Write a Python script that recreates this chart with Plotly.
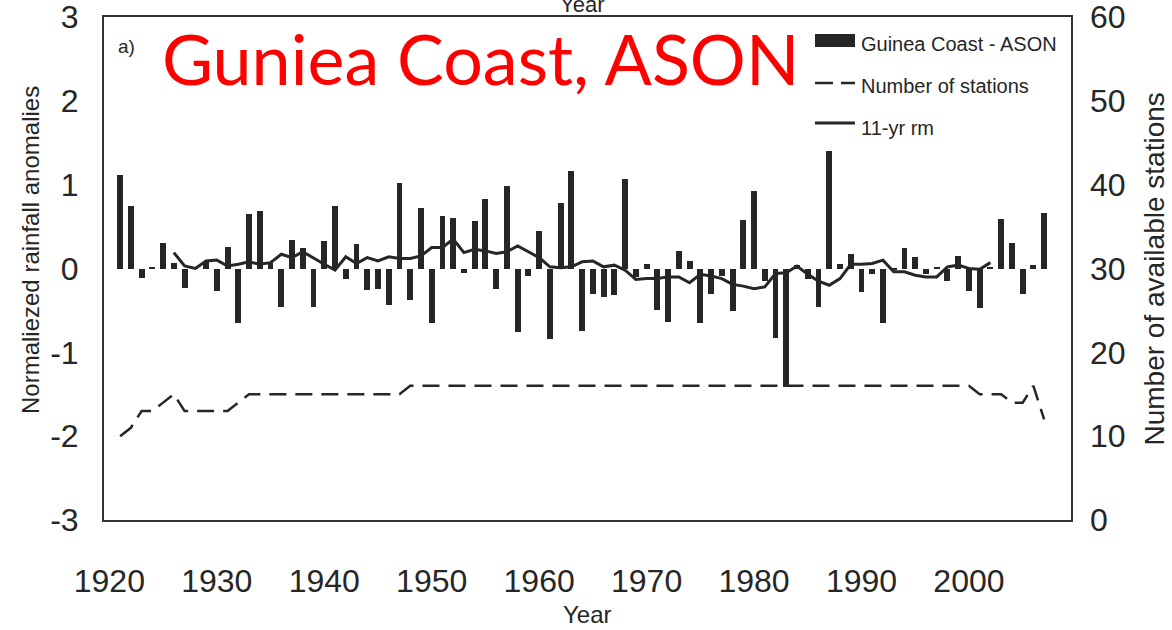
import plotly.graph_objects as go

# ---------------- data ----------------
years = list(range(1921, 2008))
anomalies = [
    1.12, 0.745, -0.11, 0.02, 0.30, 0.06, -0.23, 0.02, 0.08, -0.27,    # 1921-1930
    0.26, -0.65, 0.645, 0.68, 0.07, -0.46, 0.34, 0.25, -0.46, 0.33,     # 1931-1940
    0.75, -0.13, 0.29, -0.26, -0.25, -0.43, 1.02, -0.38, 0.725, -0.645, # 1941-1950
    0.63, 0.60, -0.055, 0.57, 0.83, -0.24, 0.98, -0.76, -0.085, 0.45,   # 1951-1960
    -0.845, 0.785, 1.16, -0.74, -0.30, -0.335, -0.315, 1.07, -0.10, 0.055,  # 1961-1970
    -0.49, -0.64, 0.21, 0.09, -0.655, -0.30, -0.09, -0.51, 0.58, 0.92,  # 1971-1980
    -0.15, -0.83, -1.41, 0.04, -0.12, -0.46, 1.40, 0.05, 0.17, -0.28,   # 1981-1990
    -0.07, -0.65, -0.02, 0.25, 0.14, -0.07, 0.01, -0.15, 0.15, -0.27,   # 1991-2000
    -0.47, 0.02, 0.59, 0.31, -0.31, 0.04, 0.66,                          # 2001-2007
]
rm_years = list(range(1926, 2003))
running_mean = [
    0.19, 0.03, 0.00, 0.09, 0.10,                                        # 1926-1930
    0.03, 0.05, 0.08, 0.05, 0.07, 0.17, 0.13, 0.20, 0.12, 0.05,          # 1931-1940
    -0.02, 0.14, 0.06, 0.13, 0.09, 0.14, 0.12, 0.12, 0.15, 0.25,         # 1941-1950
    0.25, 0.35, 0.19, 0.23, 0.21, 0.18, 0.20, 0.27, 0.20, 0.13,          # 1951-1960
    0.02, 0.01, 0.02, 0.08, 0.09, 0.02, 0.04, -0.02, -0.13, -0.12,       # 1961-1970
    -0.12, -0.10, -0.10, -0.17, -0.07, -0.09, -0.12, -0.19, -0.21, -0.24, # 1971-1980
    -0.22, -0.06, -0.05, 0.03, -0.07, -0.15, -0.20, -0.12, 0.05, 0.05,   # 1981-1990
    0.06, 0.10, -0.04, -0.04, -0.08, -0.10, -0.10, 0.02, 0.04, 0.00,     # 1991-2000
    -0.01, 0.07,                                                         # 2001-2002
]
stations = [
    10, 11, 13, 13, 14, 15, 13, 13, 13, 13,   # 1921-1930
    13, 14, 15, 15, 15, 15, 15, 15, 15, 15,   # 1931-1940
    15, 15, 15, 15, 15, 15, 15, 16, 16, 16,   # 1941-1950
    16, 16, 16, 16, 16, 16, 16, 16, 16, 16,   # 1951-1960
    16, 16, 16, 16, 16, 16, 16, 16, 16, 16,   # 1961-1970
    16, 16, 16, 16, 16, 16, 16, 16, 16, 16,   # 1971-1980
    16, 16, 16, 16, 16, 16, 16, 16, 16, 16,   # 1981-1990
    16, 16, 16, 16, 16, 16, 16, 16, 16, 16,   # 1991-2000
    15, 15, 15, 14, 14, 16, 12,               # 2001-2007
]
x_ticks = [1920, 1930, 1940, 1950, 1960, 1970, 1980, 1990, 2000]
y_ticks = [-3, -2, -1, 0, 1, 2, 3]
y_ticklabels = ["-3", "-2", "-1", "0", "1", "2", "3"]
y2_ticks = [0, 10, 20, 30, 40, 50, 60]

# ---------------- style ----------------
W, H = 1172, 630
L, R, T, B = 104, 1071, 17, 520
DARK = "#262626"
FONT = "Liberation Sans, Arial, sans-serif"


def px(xp):
    return (xp - L) / (R - L)


def py(yp):
    return (B - yp) / (B - T)


fig = go.Figure()
fig.add_trace(go.Bar(x=years, y=anomalies, width=0.55, marker=dict(color=DARK, line=dict(width=0)),
                     name="Guinea Coast - ASON", yaxis="y"))
fig.add_trace(go.Scatter(x=years, y=stations, mode="lines", yaxis="y2",
                         line=dict(color=DARK, width=2.5, dash="17px,9px"), name="Number of stations"))
fig.add_trace(go.Scatter(x=rm_years, y=running_mean, mode="lines", yaxis="y",
                         line=dict(color=DARK, width=3), name="11-yr rm"))

tickfont = dict(family=FONT, size=32, color=DARK)
fig.update_layout(
    width=W, height=H,
    margin=dict(l=L, r=W - R, t=T, b=H - B, pad=0, autoexpand=False),
    paper_bgcolor="white", plot_bgcolor="white",
    showlegend=False,
    bargap=0,
    xaxis=dict(range=[1919.5, 2009.5], tickvals=x_ticks, ticks="", showgrid=False, zeroline=False,
               showline=True, mirror=True, linecolor="#333333", linewidth=2, automargin=False,
               tickfont=tickfont, ticklabelstandoff=32, ticklabeloverflow="allow"),
    yaxis=dict(range=[-3, 3], tickvals=y_ticks, ticktext=y_ticklabels, ticks="", showgrid=False,
               zeroline=False, showline=True, mirror=True, linecolor="#333333", linewidth=2,
               automargin=False, tickfont=tickfont, ticklabelstandoff=17, ticklabeloverflow="allow"),
    yaxis2=dict(range=[0, 60], tickvals=y2_ticks, overlaying="y", side="right", ticks="",
                showgrid=False, zeroline=False, showline=False, tickfont=tickfont, automargin=False,
                ticklabelstandoff=18, ticklabeloverflow="allow"),
)

ann = []
ann.append(dict(text="Normaliezed rainfall anomalies", x=px(30), y=py(250), xref="paper", yref="paper",
                textangle=-90, showarrow=False, font=dict(family=FONT, size=24, color=DARK),
                xanchor="center", yanchor="middle"))
ann.append(dict(text="Number of available stations", x=px(1171), y=py(269), xref="paper", yref="paper",
                textangle=-90, showarrow=False, font=dict(family=FONT, size=28, color=DARK),
                xanchor="right", yanchor="middle"))
ann.append(dict(text="Year", x=px(587), y=py(630), xref="paper", yref="paper",
                showarrow=False, font=dict(family=FONT, size=24, color=DARK),
                xanchor="center", yanchor="bottom"))
ann.append(dict(text="Year", x=px(582), y=py(5), xref="paper", yref="paper",
                showarrow=False, font=dict(family=FONT, size=22, color=DARK),
                xanchor="center", yanchor="middle"))
ann.append(dict(text="a)", x=px(116), y=py(47), xref="paper", yref="paper",
                showarrow=False, font=dict(family=FONT, size=19, color=DARK), xanchor="left", yanchor="middle"))
ann.append(dict(text="Guniea Coast, ASON", x=px(160), y=py(58), xref="paper", yref="paper",
                showarrow=False, font=dict(family="Lato, Open Sans, sans-serif", size=70, color="#ff0000"),
                xanchor="left", yanchor="middle"))
lfont = dict(family=FONT, size=20, color=DARK)
for label, yc in [("Guinea Coast - ASON", 44), ("Number of stations", 86), ("11-yr rm", 128)]:
    ann.append(dict(text=label, x=px(859), y=py(yc), xref="paper", yref="paper", showarrow=False,
                    font=lfont, xanchor="left", yanchor="middle"))
fig.update_layout(annotations=ann)

shapes = [
    dict(type="rect", xref="paper", yref="paper", x0=px(815), x1=px(855), y0=py(47), y1=py(34),
         fillcolor=DARK, line=dict(width=0)),
    dict(type="line", xref="paper", yref="paper", x0=px(815), x1=px(833), y0=py(83), y1=py(83),
         line=dict(color=DARK, width=2.5)),
    dict(type="line", xref="paper", yref="paper", x0=px(841), x1=px(855), y0=py(83), y1=py(83),
         line=dict(color=DARK, width=2.5)),
    dict(type="line", xref="paper", yref="paper", x0=px(815), x1=px(855), y0=py(123), y1=py(123),
         line=dict(color=DARK, width=3)),
]
fig.update_layout(shapes=shapes)

fig.write_html("out.html")
